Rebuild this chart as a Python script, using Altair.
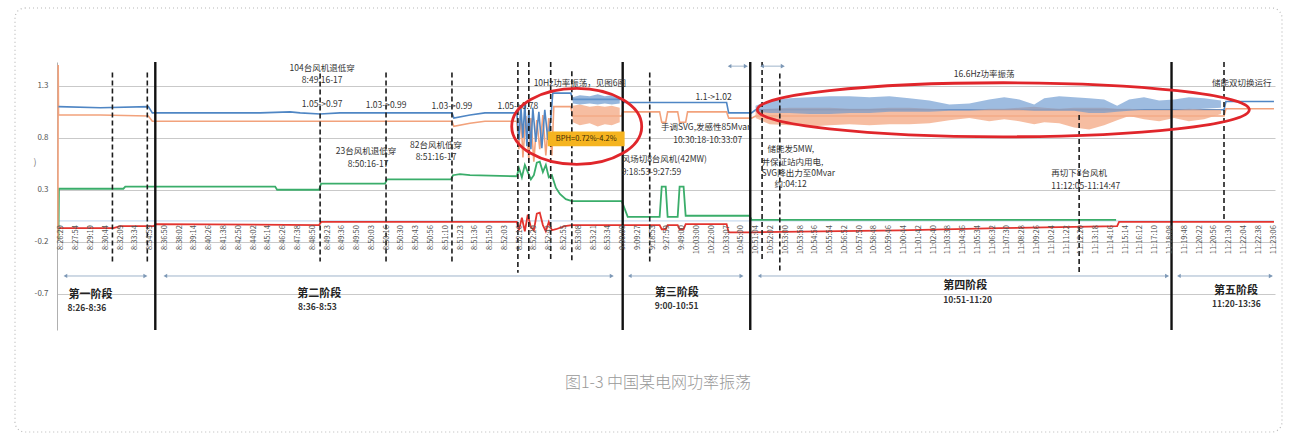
import altair as alt
import pandas as pd

# ---------------- data (x = position index of the time labels, y = per-unit value) ----------------
tick_labels = [
    "8:26:29", "8:27:54", "8:29:19", "8:30:44", "8:32:09", "8:33:34", "8:34:59",
    "8:36:50", "8:38:02", "8:39:14", "8:40:26", "8:41:38", "8:42:50", "8:44:02", "8:45:14",
    "8:46:26", "8:47:38", "8:48:50",
    "8:49:23", "8:49:36", "8:49:50", "8:50:03", "8:50:16", "8:50:30", "8:50:43", "8:50:56",
    "8:51:10", "8:51:23", "8:51:36", "8:51:50", "8:52:03",
    "8:52:16", "8:52:29", "8:52:42", "8:52:55", "8:53:08", "8:53:21", "8:53:34",
    "9:00:00", "9:09:27", "9:18:53", "9:27:59", "9:49:00", "10:03:00", "10:22:00", "10:33:07", "10:45:00",
    "10:51:04", "10:52:02", "10:53:00", "10:53:58", "10:54:56", "10:55:54", "10:56:52", "10:57:50",
    "10:58:48", "10:59:46", "11:00:44", "11:01:42", "11:02:40", "11:03:38", "11:04:36", "11:05:34",
    "11:06:32", "11:07:30", "11:08:28", "11:09:26", "11:10:24", "11:11:22", "11:12:20", "11:13:18",
    "11:14:16", "11:15:14", "11:16:12", "11:17:10", "11:18:08",
    "11:19:48", "11:20:22", "11:20:56", "11:21:30", "11:22:04", "11:22:38", "11:23:06",
]

blue_u = [-0.2, 2.64, 5.88, 6.15, 9.39, 13.45, 15.47, 16.15, 17.5, 18.85, 26.42, 26.55, 27.64, 28.65,
          30.81, 30.95, 31.08, 31.22, 31.35, 31.49, 31.62, 31.76, 31.89, 32.09, 32.3, 32.5, 32.7, 32.91,
          33.11, 33.24, 34.46, 34.59, 37.91, 37.97, 45.0, 45.14, 46.69, 46.96, 78.65, 78.78, 82.03]
blue_v = [1.10, 1.09, 1.10, 1.04, 1.04, 1.04, 1.05, 1.04, 1.03, 1.04, 1.04, 0.99, 1.02, 1.04,
          1.04, 0.78, 1.11, 0.80, 1.13, 0.72, 1.07, 0.69, 1.09, 0.76, 1.05, 0.70, 1.07, 0.78,
          0.99, 1.23, 1.23, 1.17, 1.17, 1.14, 1.14, 1.04, 1.04, 1.07, 1.07, 1.15, 1.15]

orange_u = [-0.24, -0.22, -0.2, 2.64, 5.88, 6.15, 16.15, 26.42, 26.55, 27.64, 28.65, 30.81, 30.95, 31.08,
            31.22, 31.42, 31.62, 31.76, 31.96, 32.16, 32.36, 32.57, 32.77, 32.97, 33.18, 33.31, 34.46,
            34.59, 37.91, 37.97, 40.47, 40.61, 40.88, 41.01, 41.69, 41.82, 42.23, 42.36, 45.0, 45.14,
            46.69, 46.96, 78.65, 78.78, 82.03]
orange_v = [-0.18, 1.50, 1.02, 1.02, 1.01, 0.96, 0.96, 0.96, 0.91, 0.94, 0.96, 0.96, 0.69, 1.05,
            0.61, 1.01, 0.59, 0.99, 0.57, 0.97, 0.69, 1.02, 0.63, 0.99, 0.63, 1.10, 1.10,
            1.01, 1.01, 1.05, 1.05, 0.95, 0.95, 1.05, 1.05, 0.95, 0.95, 1.05, 1.05, 0.99,
            0.99, 1.01, 1.01, 1.08, 1.08]

green_u = [-0.2, -0.17, 4.19, 4.32, 14.46, 14.59, 17.43, 17.57, 21.89, 22.03, 26.35, 26.49, 26.96, 27.64,
           30.81, 30.95, 31.15, 31.35, 31.55, 31.76, 31.96, 32.16, 32.36, 32.57, 32.77, 32.97, 33.18,
           33.45, 33.72, 34.12, 34.53, 37.91, 38.31, 40.47, 40.61, 40.88, 41.01, 41.69, 41.82, 42.09,
           42.23, 46.55, 46.69, 71.35]
green_v = [-0.18, 0.31, 0.31, 0.33, 0.33, 0.30, 0.30, 0.36, 0.36, 0.40, 0.40, 0.44, 0.45, 0.44,
           0.43, 0.51, 0.42, 0.54, 0.47, 0.40, 0.44, 0.56, 0.57, 0.47, 0.54, 0.42, 0.44,
           0.32, 0.26, 0.21, 0.19, 0.19, 0.04, 0.04, 0.33, 0.33, 0.04, 0.04, 0.33, 0.33,
           0.05, 0.05, 0.01, 0.01]

red_u = [-0.2, 3.51, 3.99, 6.22, 6.42, 17.43, 17.57, 30.81, 30.95, 31.15, 31.35, 31.55, 31.76, 31.96,
         32.16, 32.36, 32.57, 32.77, 32.97, 33.18, 33.45, 34.05, 34.53, 40.47, 40.61, 40.88, 41.01,
         41.69, 41.82, 42.09, 42.23, 45.0, 45.14, 46.69, 56.69, 63.45, 71.42, 71.55, 82.03]
red_v = [-0.07, -0.07, -0.05, -0.05, -0.03, -0.04, -0.01, -0.01, -0.09, 0.03, -0.10, 0.06, -0.06, -0.09,
         0.07, 0.08, -0.04, -0.10, -0.01, -0.09, -0.08, -0.05, -0.04, -0.04, -0.08, -0.08, -0.04,
         -0.04, -0.08, -0.08, -0.03, -0.03, -0.11, -0.11, -0.09, -0.07, -0.05, -0.01, -0.01]

faint_u = [-0.2, 82.03]
faint_v = [0.0, 0.0]

# oscillation envelopes
bandB_u = [34.59, 35.07, 35.74, 36.28, 36.76, 37.23, 37.77]
blueB_hi = [1.19, 1.21, 1.20, 1.22, 1.20, 1.21, 1.19]
blueB_lo = [1.13, 1.12, 1.13, 1.12, 1.13, 1.12, 1.13]
orangeB_hi = [1.11, 1.12, 1.10, 1.11, 1.10, 1.11, 1.09]
orangeB_lo = [0.95, 0.92, 0.94, 0.91, 0.93, 0.92, 0.95]

bandC_u = [46.96, 47.91, 49.26, 50.61, 51.96, 53.31, 54.66, 56.01, 57.36, 58.72, 60.07, 61.42, 62.77,
           63.78, 64.8, 65.81, 66.49, 67.5, 68.51, 69.53, 70.54, 71.42, 72.23, 73.24, 74.26, 75.27,
           76.28, 77.3, 78.45]
blueC_hi = [1.11, 1.16, 1.18, 1.19, 1.20, 1.20, 1.19, 1.20, 1.18, 1.16, 1.12, 1.13, 1.17,
            1.19, 1.17, 1.12, 1.18, 1.20, 1.19, 1.18, 1.17, 1.11, 1.17, 1.19, 1.16, 1.17,
            1.19, 1.18, 1.16]
blueC_lo = [1.05, 1.04, 1.04, 1.03, 1.03, 1.04, 1.04, 1.05, 1.05, 1.05, 1.06, 1.06, 1.07,
            1.07, 1.07, 1.06, 1.06, 1.06, 1.06, 1.04, 1.04, 1.05, 1.06, 1.07, 1.07, 1.07,
            1.07, 1.08, 1.09]
orangeC_hi = [1.07, 1.08, 1.09, 1.09, 1.09, 1.08, 1.08, 1.09, 1.09, 1.08, 1.07, 1.07, 1.08,
              1.08, 1.09, 1.10, 1.09, 1.08, 1.09, 1.09, 1.09, 1.08, 1.08, 1.07, 1.07, 1.07,
              1.08, 1.07, 1.07]
orangeC_lo = [0.99, 0.93, 0.92, 0.91, 0.92, 0.93, 0.92, 0.93, 0.93, 0.94, 0.97, 0.99, 0.96,
              0.98, 0.96, 0.93, 0.95, 0.94, 0.90, 0.88, 0.92, 0.97, 1.01, 0.98, 0.96, 0.99,
              0.96, 0.98, 1.03]

solid_u = [6.35, 37.97, 46.6, 75.1]
dash_u = [3.45, 5.81, 17.5, 21.96, 26.42, 30.88, 31.62, 33.1, 34.53, 39.8, 47.4, 48.6, 68.85, 78.65]
dash_top = [1.43, 1.43, 1.42, 1.43, 1.43, 1.53, 1.53, 1.53, 1.44, 1.43, 1.53, 1.42, 1.02, 1.53]
dash_bot = [-0.39, -0.39, -0.39, -0.39, -0.39, -0.50, -0.39, -0.39, -0.39, -0.39, -0.39, -0.50, -0.50, -0.01]

arrow_s = [0.27, 7.03, 38.45, 47.23, 75.6]
arrow_e = [5.68, 37.23, 46.01, 74.8, 81.82]
arrow_v = [-0.53, -0.53, -0.53, -0.53, -0.53]
top_arrow_s = [45.2, 47.4]
top_arrow_e = [46.3, 48.8]
top_arrow_v = [1.49, 1.49]

phase_names = ["第一阶段", "第二阶段", "第三阶段", "第四阶段", "第五阶段"]
phase_u = [0.47, 15.95, 40.14, 59.66, 77.97]
phase_v = [-0.71, -0.70, -0.69, -0.63, -0.67]
phase_times = ["8:26-8:36", "8:36-8:53", "9:00-10:51", "10:51-11:20", "11:20-13:36"]
time_u = [0.41, 16.0, 40.14, 59.66, 77.84]
time_v = [-0.835, -0.825, -0.815, -0.758, -0.796]

ann_c_text = ["104台风机退低穿", "8:49:16-17", "1.05->0.97", "1.03->0.99", "1.03->0.99", "1.05->0.78",
              "23台风机退低穿", "8:50:16-17", "82台风机低穿", "8:51:16-17", "10Hz功率振荡，见图6图",
              "1.1->1.02", "手调SVG,发感性85Mvar", "10:30:18-10:33:07", "16.6Hz功率振荡"]
ann_c_u = [17.64, 17.64, 17.64, 21.96, 26.42, 30.88, 20.61, 20.74, 25.34, 25.34, 35.07, 44.12, 43.58, 43.72, 62.43]
ann_c_v = [1.47, 1.36, 1.13, 1.12, 1.11, 1.11, 0.67, 0.55, 0.73, 0.62, 1.33, 1.19, 0.90, 0.78, 1.41]

ann_l_text = ["风场切8台风机(42MW)", "9:18:53-9:27:59", "储能发5MW,", "并保证站内用电,", "SVG降出力至0Mvar",
              "约:04:12", "储能双切换运行", "再切下8台风机", "11:12:05-11:14:47"]
ann_l_u = [37.9, 37.9, 47.77, 47.36, 47.36, 48.24, 77.84, 66.96, 66.96]
ann_l_v = [0.60, 0.47, 0.69, 0.57, 0.46, 0.36, 1.33, 0.46, 0.34]

box_x1, box_x2, box_y1, box_y2 = [32.9], [38.1], [0.72], [0.86]
box_text, box_u, box_v = ["BPH=0.72%-4.2%"], [35.5], [0.79]

ellipse_u = [34.86, 63.72]
ellipse_v = [0.91, 1.07]

caption = "图1-3 中国某电网功率振荡"

# ---------------- chart ----------------
FONT = "Noto Sans CJK SC"
XS = alt.Scale(domain=[-0.3, 82.1], nice=False, zero=False)
YS = alt.Scale(domain=[-1.05, 1.53], nice=False, zero=False)

YAXIS = alt.Axis(values=[1.3, 0.8, 0.3, -0.2, -0.7], grid=True, gridColor="#c9c9c9", gridWidth=1,
                 domain=True, domainColor="#b0b0b0", ticks=False, labelFontSize=8, labelColor="#555",
                 labelPadding=9, title=None, labelFont=FONT,
                 labelExpr="replace(format(datum.value, '.1f'), '\u2212', '-')")


def X(f="u"):
    return alt.X(f"{f}:Q", scale=XS, axis=None)


def Y(f="v"):
    return alt.Y(f"{f}:Q", scale=YS, axis=YAXIS)


faint = alt.Chart(pd.DataFrame({"u": faint_u, "v": faint_v})).mark_line(
    color="#bcd3ea", strokeWidth=1).encode(x=X(), y=Y())


def series(u, v, color, w):
    df = pd.DataFrame({"u": u, "v": v, "i": list(range(len(u)))})
    return alt.Chart(df).mark_line(color=color, strokeWidth=w).encode(x=X(), y=Y(), order="i:Q")


def band(u, hi, lo, color, op):
    df = pd.DataFrame({"u": u, "hi": hi, "lo": lo})
    return alt.Chart(df).mark_area(color=color, opacity=op).encode(x=X(), y=Y("hi"), y2="lo:Q")


BLUE, ORANGE, GREEN, RED = "#4f86c4", "#f2a27c", "#3aad6a", "#e3342f"

green = series(green_u, green_v, GREEN, 1.8)
red = series(red_u, red_v, RED, 1.8)
orange = series(orange_u, orange_v, ORANGE, 1.6)
blue = series(blue_u, blue_v, BLUE, 1.6)
bands = [
    band(bandB_u, orangeB_hi, orangeB_lo, "#f4ad8a", 0.8),
    band(bandC_u, orangeC_hi, orangeC_lo, "#f4ad8a", 0.8),
    band(bandB_u, blueB_hi, blueB_lo, "#6a98cf", 0.7),
    band(bandC_u, blueC_hi, blueC_lo, "#6a98cf", 0.65),
]

dashed = alt.Chart(pd.DataFrame({"u": dash_u, "top": dash_top, "bot": dash_bot})).mark_rule(
    color="#1c1c1c", strokeWidth=1.6, strokeDash=[5, 3]).encode(x=X(), y=Y("top"), y2="bot:Q")
solid = alt.Chart(pd.DataFrame({"u": solid_u})).mark_rule(
    color="#111", strokeWidth=2.4).encode(x=X())

arr_df = pd.DataFrame({"s": arrow_s, "e": arrow_e, "v": arrow_v})
tarr_df = pd.DataFrame({"s": top_arrow_s, "e": top_arrow_e, "v": top_arrow_v})
ACOL = "#9fb4ca"
arrows = []
for d in (arr_df, tarr_df):
    arrows.append(alt.Chart(d).mark_rule(color=ACOL, strokeWidth=1).encode(x=X("s"), x2="e:Q", y=Y()))
    arrows.append(alt.Chart(d).mark_point(shape="triangle-right", filled=True, size=22, color="#7d98b6",
                                          opacity=1).encode(x=X("e"), y=Y()))
    arrows.append(alt.Chart(d).mark_point(shape="triangle-left", filled=True, size=18, color="#7d98b6",
                                          opacity=1).encode(x=X("s"), y=Y()))


def ellipse_path(r):
    k = 0.5523
    return (f"M 1 0 C 1 {r*k:.4f} {k} {r:.4f} 0 {r:.4f} C {-k} {r:.4f} -1 {r*k:.4f} -1 0 "
            f"C -1 {-r*k:.4f} {-k} {-r:.4f} 0 {-r:.4f} C {k} {-r:.4f} 1 {-r*k:.4f} 1 0 Z")


ell1 = alt.Chart(pd.DataFrame({"u": ellipse_u[:1], "v": ellipse_v[:1]})).mark_point(
    shape=ellipse_path(38 / 65), size=130 * 130, filled=False, color="#e0262b", strokeWidth=2.8,
    opacity=1).encode(x=X(), y=Y())
ell2 = alt.Chart(pd.DataFrame({"u": ellipse_u[1:], "v": ellipse_v[1:]})).mark_point(
    shape=ellipse_path(27 / 246), size=492 * 492, filled=False, color="#e0262b", strokeWidth=2.8,
    opacity=1).encode(x=X(), y=Y())

ybox = alt.Chart(pd.DataFrame({"x1": box_x1, "x2": box_x2, "y1": box_y1, "y2": box_y2})).mark_rect(
    color="#f5b420").encode(x=X("x1"), x2="x2:Q", y=Y("y1"), y2="y2:Q")
ybox_t = alt.Chart(pd.DataFrame({"u": box_u, "v": box_v, "t": box_text})).mark_text(
    font=FONT, fontSize=7.5, color="#3b2a05", align="center", baseline="middle").encode(
    x=X(), y=Y(), text="t:N")

ann_c = alt.Chart(pd.DataFrame({"u": ann_c_u, "v": ann_c_v, "t": ann_c_text})).mark_text(
    font=FONT, fontSize=8.5, color="#333", align="center", baseline="middle").encode(
    x=X(), y=Y(), text="t:N")
ann_l = alt.Chart(pd.DataFrame({"u": ann_l_u, "v": ann_l_v, "t": ann_l_text})).mark_text(
    font=FONT, fontSize=8.5, color="#333", align="left", baseline="middle").encode(
    x=X(), y=Y(), text="t:N")

ticks_df = pd.DataFrame({"u": list(range(len(tick_labels))), "t": tick_labels,
                         "v": [-0.04] * len(tick_labels)})
ticks = alt.Chart(ticks_df).mark_text(
    font=FONT, fontSize=7.5, color="#555", angle=270, align="right", baseline="middle").encode(
    x=X(), y=Y(), text="t:N")

ph = alt.Chart(pd.DataFrame({"u": phase_u, "v": phase_v, "t": phase_names})).mark_text(
    font=FONT, fontSize=11, fontWeight="bold", color="#222", align="left", baseline="middle").encode(
    x=X(), y=Y(), text="t:N")
pt = alt.Chart(pd.DataFrame({"u": time_u, "v": time_v, "t": phase_times})).mark_text(
    font=FONT, fontSize=8.5, fontWeight="bold", color="#333", align="left", baseline="middle").encode(
    x=X(), y=Y(), text="t:N")

dummy = pd.DataFrame({"a": [0]})
frame = alt.Chart(dummy).mark_rect(
    filled=False, color="#b8b8b8", strokeWidth=1.2, strokeDash=[1, 3], cornerRadius=10).encode(
    x=alt.value(-42), x2=alt.value(1225), y=alt.value(-54), y2=alt.value(370))
cap = alt.Chart(dummy).mark_text(
    text=caption, font=FONT, fontSize=16, fontWeight=300, color="#999", align="center",
    baseline="middle").encode(x=alt.value(601), y=alt.value(321))
paren = alt.Chart(dummy).mark_text(
    text=")", font=FONT, fontSize=9, color="#777", align="center", baseline="middle").encode(
    x=alt.value(-22), y=alt.value(100))

chart = alt.layer(
    faint, green, red, orange, blue, *bands, dashed, solid, ybox, ybox_t, ann_c, ann_l, ticks,
    *arrows, ell1, ell2, ph, pt, frame, cap, paren
).properties(
    width=1218, height=268,
    padding={"left": 57, "top": 62, "right": 18, "bottom": 103},
    autosize=alt.AutoSizeParams(type="none"),
    background="white",
).configure_view(strokeOpacity=0)

chart.save("out.html", embed_options={"renderer": "svg", "actions": False})
